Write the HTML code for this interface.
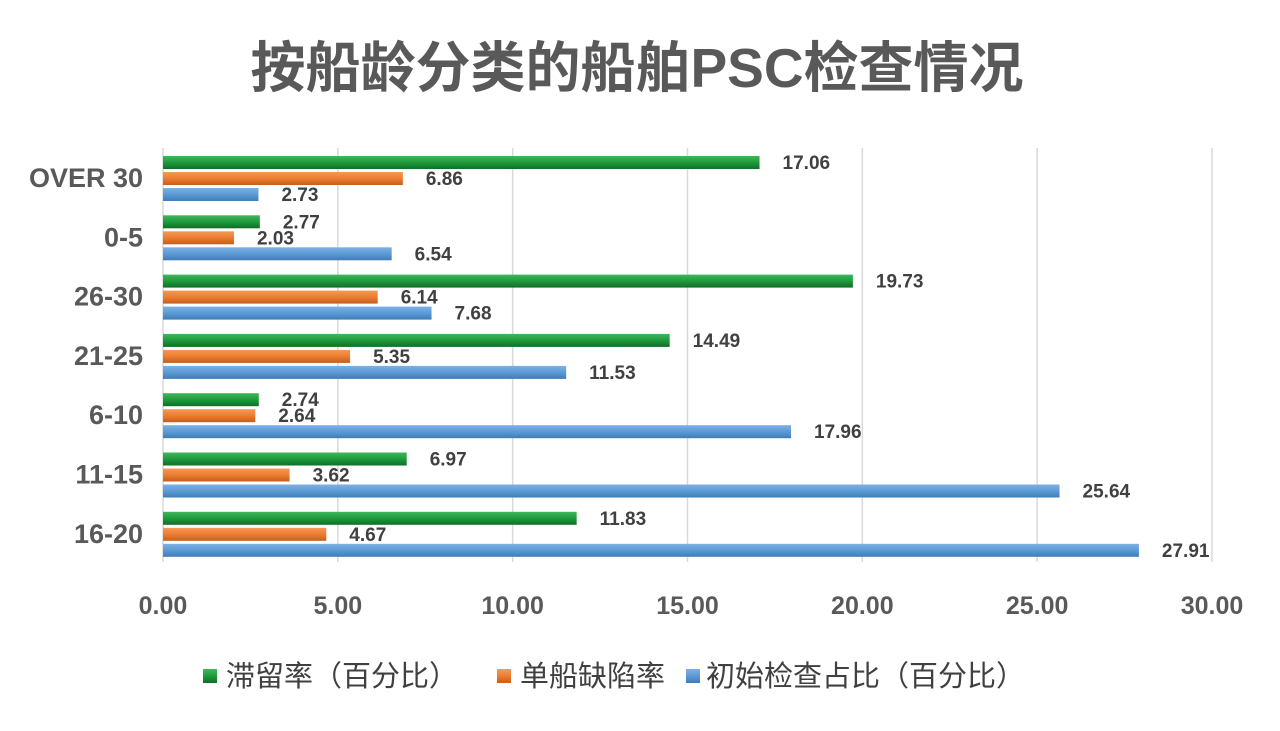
<!DOCTYPE html>
<html><head><meta charset="utf-8"><style>
body{margin:0;background:#fff;}
svg{display:block;font-family:"Liberation Sans","Noto Sans CJK SC",sans-serif;}
</style></head><body>
<svg id="chart" width="1280" height="731" viewBox="0 0 1280 731">
<defs>
<linearGradient id="gG" x1="0" y1="0" x2="0" y2="1"><stop offset="0" stop-color="#3fb85a"/><stop offset="0.5" stop-color="#1f9a3d"/><stop offset="1" stop-color="#0f6e26"/></linearGradient>
<linearGradient id="gO" x1="0" y1="0" x2="0" y2="1"><stop offset="0" stop-color="#f49a55"/><stop offset="0.5" stop-color="#ec7d31"/><stop offset="1" stop-color="#c45f1c"/></linearGradient>
<linearGradient id="gB" x1="0" y1="0" x2="0" y2="1"><stop offset="0" stop-color="#7fb0e3"/><stop offset="0.5" stop-color="#5b9bd5"/><stop offset="1" stop-color="#3f7cb8"/></linearGradient>
</defs>
<text x="637" y="87" text-anchor="middle" font-size="55" font-weight="bold" fill="#595959">按船龄分类的船舶PSC检查情况</text>
<g id="grid"></g><g id="bars"></g><g id="labels"></g>
<g id="legend">
<rect x="203" y="669" width="14" height="14" fill="url(#gG)"/>
<text x="226" y="686" font-size="29" fill="#404040">滞留率（百分比）</text>
<rect x="497" y="669" width="14" height="14" fill="url(#gO)"/>
<text x="520" y="686" font-size="29" fill="#404040">单船缺陷率</text>
<rect x="686" y="669" width="14" height="14" fill="url(#gB)"/>
<text x="706" y="686" font-size="29" fill="#404040">初始检查占比（百分比）</text>
</g>
</svg>
<script>
const categories=["OVER 30","0-5","26-30","21-25","6-10","11-15","16-20"];
const detention=[17.06,2.77,19.73,14.49,2.74,6.97,11.83];
const defects=[6.86,2.03,6.14,5.35,2.64,3.62,4.67];
const initial=[2.73,6.54,7.68,11.53,17.96,25.64,27.91];
const ticks=[0,5,10,15,20,25,30];
const tickLabels=["0.00","5.00","10.00","15.00","20.00","25.00","30.00"];
const NS="http://www.w3.org/2000/svg";
const x0=163,x1=1212,xmax=30,groupTop=156,groupStep=59.3;
const xs=v=>x0+(x1-x0)*v/xmax;
function mk(tag,attrs,parent){const e=document.createElementNS(NS,tag);for(const k in attrs)e.setAttribute(k,attrs[k]);parent.appendChild(e);return e;}
const grid=document.getElementById('grid'),bars=document.getElementById('bars'),labels=document.getElementById('labels');
ticks.forEach((t,i)=>{
 const l=mk('line',{x1:xs(t),x2:xs(t),y1:148,y2:562,stroke:'#d9d9d9','stroke-width':1.5},grid);
 
 
 const tx=mk('text',{x:xs(t),y:614,'text-anchor':'middle','font-size':25,'font-weight':'bold',fill:'#595959'},grid);
 tx.textContent=tickLabels[i];
 
 
});
const series=[[detention,'url(#gG)','detention'],[defects,'url(#gO)','defect'],[initial,'url(#gB)','initial']];
categories.forEach((c,i)=>{
 const gy=groupTop+i*groupStep;
 const ct=mk('text',{x:143,y:gy+31,'text-anchor':'end','font-size':27,'font-weight':'bold',fill:'#595959'},labels);
 ct.textContent=c;
 
 
 series.forEach((s,j)=>{
  const v=s[0][i],y=gy+j*16;
  const r=mk('rect',{x:x0,y:y,width:xs(v)-x0,height:13,fill:s[1]},bars);
  
  
  const t=mk('text',{x:xs(v)+23,y:y+13,'font-size':19,'font-weight':'bold',fill:'#404040'},labels);
  t.textContent=v.toFixed(2);
  
  
 });
});
</script>
</body></html>
